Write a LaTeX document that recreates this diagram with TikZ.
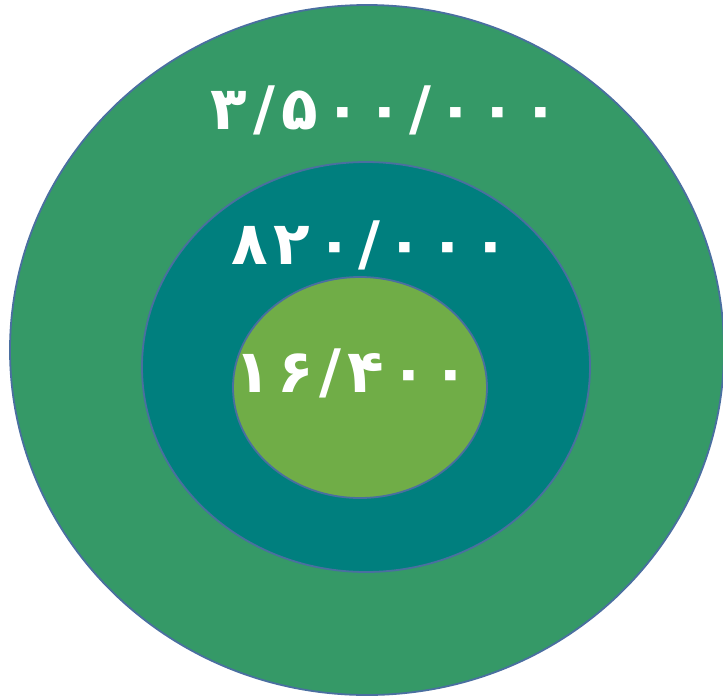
\documentclass[tikz,border=0pt]{standalone}
\usepackage{fontspec}
\newfontfamily\persianfont[Script=Arabic,LetterSpace=10]{DejaVu Sans}
\definecolor{OuterRing}{HTML}{359967}
\definecolor{MiddleRing}{HTML}{007F7E}
\definecolor{InnerRing}{HTML}{70AD47}
\definecolor{RingEdge}{HTML}{4A6FA0}

\begin{document}
\begin{tikzpicture}[x=1pt,y=-1pt,
  ring/.style={draw=RingEdge,line width=1.8pt},
  count/.style={text=white,font=\persianfont\bfseries\fontsize{60}{70}\selectfont,inner sep=0pt}]
\useasboundingbox (0,0) rectangle (723,697);
\fill[white] (0,0) rectangle (723,697);
% nested ellipses
\draw[ring,fill=OuterRing] (367,350) ellipse [x radius=357pt,y radius=345pt];
\draw[ring,fill=MiddleRing] (366,367) ellipse [x radius=224pt,y radius=205pt];
\draw[ring,fill=InnerRing] (360,387.5) ellipse [x radius=127pt,y radius=110.5pt];
% numbers
\node[count] (outer) at (385,110) {۳/۵۰۰/۰۰۰};
\node[count] (middle) at (370,245) {۸۲۰/۰۰۰};
\node[count] (inner) at (352,373) {۱۶/۴۰۰};
\end{tikzpicture}
\end{document}
